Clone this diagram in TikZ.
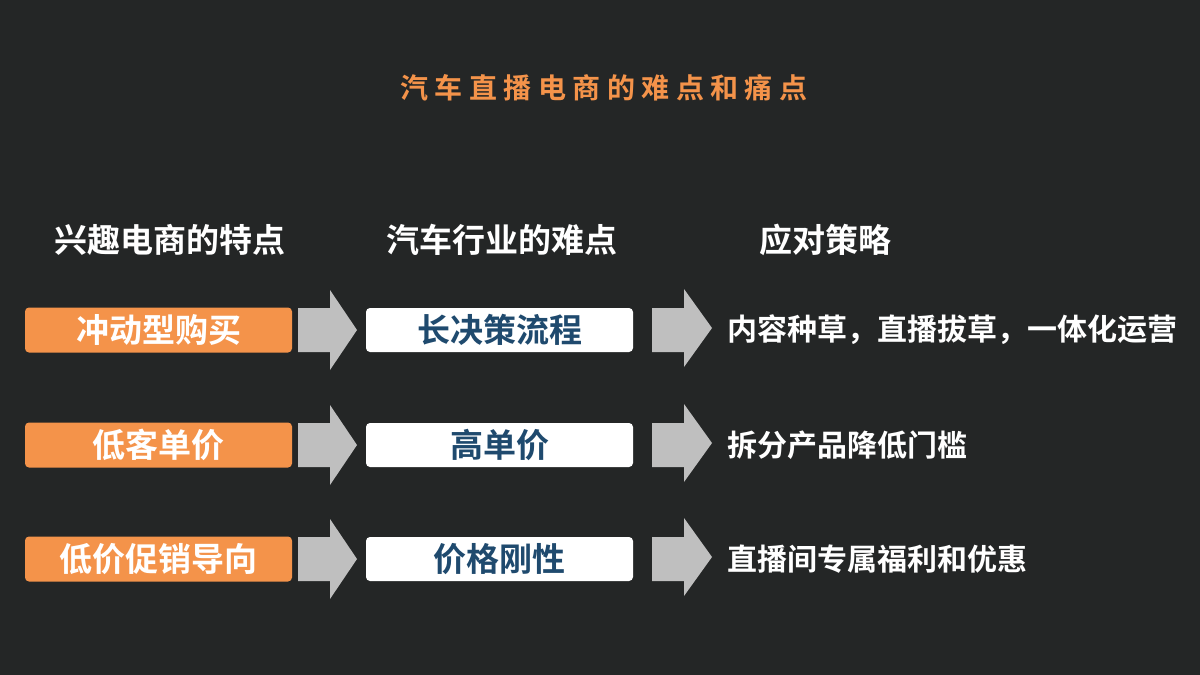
\documentclass[tikz,border=0pt]{standalone}
\usepackage{fontspec}
\newfontfamily\cjk{Noto Sans CJK SC Bold}
\newfontfamily\cjkls[LetterSpace=23]{Noto Sans CJK SC Bold}
\definecolor{bg}{HTML}{242626}
\definecolor{org}{HTML}{F4934A}
\definecolor{navy}{HTML}{1F4A6E}
\definecolor{arr}{HTML}{BFBFBF}
\begin{document}
\begin{tikzpicture}[x=1pt,y=-1pt,
  obox/.style={fill=org,rounded corners=4pt,minimum width=267pt,minimum height=45pt,text=white,font=\cjk\fontsize{33}{38}\selectfont},
  wbox/.style={fill=white,rounded corners=4pt,minimum width=267pt,minimum height=44pt,text=navy,font=\cjk\fontsize{33}{38}\selectfont},
  hdr/.style={text=white,font=\cjk\fontsize{33}{38}\selectfont},
  rt/.style={text=white,anchor=west,font=\cjk\fontsize{30}{34}\selectfont}]
\fill[bg] (0,0) rectangle (1200,675);
\useasboundingbox (0,0) rectangle (1200,675);
\node[text=org,font=\cjkls\fontsize{28}{32}\selectfont] (title) at (604,88) {汽车直播电商的难点和痛点};
\node[hdr] (h1) at (170,240) {兴趣电商的特点};
\node[hdr] (h2) at (502,240) {汽车行业的难点};
\node[hdr] (h3) at (825,240) {应对策略};
\foreach \y/\a/\b/\c [count=\i] in {330/冲动型购买/长决策流程/{内容种草，直播拔草，一体化运营},445/低客单价/高单价/拆分产品降低门槛,559/低价促销导向/价格刚性/直播间专属福利和优惠}{
  \node[obox] (o\i) at (158.5,\y) {\a};
  \node[wbox] (w\i) at (499.5,\y) {\b};
  \node[rt] (r\i) at (724,\y) {\c};
  \fill[arr] (298,\y-22) -- (330,\y-22) -- (330,\y-40) -- (357,\y) -- (330,\y+40) -- (330,\y+22) -- (298,\y+22) -- cycle;
  \fill[arr] (652,\y-22) -- (684,\y-22) -- (684,\y-41) -- (712,\y-2) -- (684,\y+37) -- (684,\y+22) -- (652,\y+22) -- cycle;
}
\end{tikzpicture}
\end{document}
